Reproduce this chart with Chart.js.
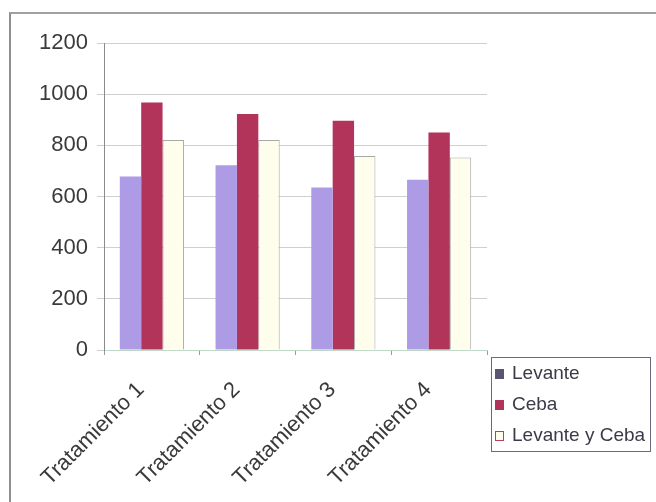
<!DOCTYPE html>
<html>
<head>
<meta charset="utf-8">
<script src="https://cdn.jsdelivr.net/npm/chart.js@4/dist/chart.umd.min.js"></script>
<style>
  html, body { margin: 0; padding: 0; background: #fff; }
  #wrap { position: relative; width: 656px; height: 502px; }
  #frame { position: absolute; left: 9px; top: 12px; width: 660px; height: 500px; border-left: 2px solid #8f8f8f; border-top: 2px solid #a0a0a0; box-sizing: border-box; }
  #legend { position: absolute; left: 491px; top: 357px; width: 160px; height: 95px; border: 1px solid #6a6a7a; box-sizing: border-box; font-family: "Liberation Sans", Arial, sans-serif; font-size: 19px; color: #3a3a48; }
  .item { position: absolute; left: 3px; height: 22px; line-height: 22px; white-space: nowrap; }
  .sw { display: inline-block; width: 9px; height: 10px; margin-right: 8px; vertical-align: middle; box-sizing: border-box; }
</style>
</head>
<body>
<div id="wrap">
  <canvas id="c" width="656" height="502"></canvas>
  <div id="frame"></div>
  <div id="legend"></div>
</div>
<script>
const categories = ["Tratamiento 1", "Tratamiento 2", "Tratamiento 3", "Tratamiento 4"];
const seriesNames = ["Levante", "Ceba", "Levante y Ceba"];
const levante = [678, 722, 635, 665];
const ceba = [967, 922, 896, 850];
const levanteYCeba = [821, 821, 758, 752];
const yTicks = [0, 200, 400, 600, 800, 1000, 1200];

const colors = ["#ad9be6", "#b3345a", "#fffdeb"];
const borders = ["#ad9be6", "#b3345a", "#a8a8a8"];
const seriesData = [levante, ceba, levanteYCeba];

const datasets = seriesNames.map((name, i) => ({
  label: name,
  data: seriesData[i],
  backgroundColor: colors[i],
  borderColor: borders[i],
  borderWidth: i === 2 ? 1 : 0,
  barPercentage: 1.0,
  categoryPercentage: 0.67
}));

new Chart(document.getElementById('c'), {
  type: 'bar',
  data: { labels: categories, datasets },
  options: {
    responsive: false,
    animation: false,
    layout: { padding: { left: 0, top: 43, right: 169, bottom: 0 } },
    plugins: { legend: { display: false }, tooltip: { enabled: false } },
    scales: {
      x: {
        grid: { drawOnChartArea: false, color: '#9a9a9a', tickLength: 5, offset: true },
        border: { color: '#c0d8c8', width: 1 },
        ticks: {
          minRotation: 45, maxRotation: 45, padding: 22, labelOffset: -11,
          color: '#3a3a3a',
          font: { family: '"Liberation Sans", Arial, sans-serif', size: 22 }
        },
        afterFit: s => { s.height = 152; }
      },
      y: {
        min: 0, max: 1200,
        afterBuildTicks: s => { s.ticks = yTicks.map(v => ({ value: v })); },
        grid: { color: '#cfcfcf', tickLength: 7 },
        border: { color: '#8a8a8a', width: 1 },
        ticks: {
          padding: 9, color: '#3a3a3a',
          callback: v => String(v),
          font: { family: '"Liberation Sans", Arial, sans-serif', size: 22 }
        },
        afterFit: s => { s.width = 104; }
      }
    }
  }
});

const lg = document.getElementById('legend');
seriesNames.forEach((name, i) => {
  const d = document.createElement('div');
  d.className = 'item';
  d.style.top = (4 + i * 31) + 'px';
  const sw = document.createElement('span');
  sw.className = 'sw';
  sw.style.background = i === 0 ? '#5a5470' : colors[i];
  if (i === 2) sw.style.border = '1px solid #b34060';
  d.appendChild(sw);
  d.appendChild(document.createTextNode(name));
  lg.appendChild(d);
});
</script>
</body>
</html>
